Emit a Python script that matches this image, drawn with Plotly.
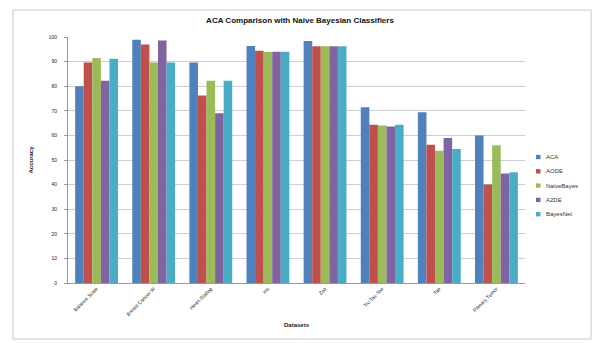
import plotly.graph_objects as go

# Datasets and accuracy (%) per classifier
datasets = ["Balance Scale", "Breast Cancer W", "Heart-Statlog", "Iris", "Zoo",
            "Tic-Tac-Toe", "Tae", "Primary Tumor"]
aca = [80.0, 98.9, 89.6, 96.3, 98.4, 71.4, 69.4, 60.0]
aode = [89.6, 97.0, 76.2, 94.4, 96.2, 64.3, 56.2, 40.0]
naive_bayes = [91.5, 89.6, 82.2, 93.9, 96.2, 64.0, 53.8, 56.0]
a2de = [82.2, 98.6, 69.0, 94.0, 96.2, 63.6, 58.9, 44.5]
bayes_net = [91.2, 89.6, 82.2, 94.0, 96.2, 64.3, 54.5, 45.0]

series_names = ["ACA", "AODE", "NaiveBayes", "A2DE", "BayesNet"]
series_values = [aca, aode, naive_bayes, a2de, bayes_net]
colors = ["#4F81BD", "#C0504D", "#9BBB59", "#8064A2", "#4BACC6"]

y_ticks = list(range(0, 101, 10))

fig = go.Figure()
for name, vals, col in zip(series_names, series_values, colors):
    fig.add_trace(go.Bar(x=datasets, y=vals, name=name, marker_color=col,
                         marker_line_width=0, showlegend=False))

font_family = "Liberation Sans, Arial, sans-serif"

# plot area geometry in pixels (used for the compact legend and border)
PL, PR, PT, PB = 68, 525, 37, 283
PW, PH = PR - PL, PB - PT


def px_x(x):
    return (x - PL) / PW


def px_y(y):
    return (PB - y) / PH


shapes = [dict(type="rect", xref="paper", yref="paper",
               x0=px_x(13), x1=px_x(591), y0=px_y(339), y1=px_y(10),
               line=dict(color="#c8c8c8", width=1), layer="below")]
annotations = []

# compact legend: small coloured squares with labels
leg_y0, leg_step = 157, 14.3
for i, (name, col) in enumerate(zip(series_names, colors)):
    cy = leg_y0 + i * leg_step
    shapes.append(dict(type="rect", xref="paper", yref="paper",
                       x0=px_x(536), x1=px_x(540.5), y0=px_y(cy + 2.2), y1=px_y(cy - 2.2),
                       fillcolor=col, line=dict(width=0)))
    annotations.append(dict(text=name, xref="paper", yref="paper",
                            x=px_x(544), y=px_y(cy), xanchor="left", yanchor="middle",
                            showarrow=False, font=dict(size=6, color="#333")))

fig.update_layout(
    width=600, height=343,
    margin=dict(l=PL, r=600 - PR, t=PT, b=343 - PB),
    paper_bgcolor="white", plot_bgcolor="white",
    barmode="group", bargap=0.25, bargroupgap=0,
    font=dict(family=font_family, size=6, color="#222"),
    title=dict(text="<b>ACA Comparison with Naive Bayesian Classifiers</b>",
               x=0.5, xanchor="center", y=0.94, yanchor="middle",
               font=dict(size=8, color="#111")),
    showlegend=False,
    xaxis=dict(title=dict(text="<b>Datasets</b>", font=dict(size=6), standoff=6),
               tickangle=-45, showline=True, linecolor="#999", linewidth=1,
               ticks="", tickfont=dict(size=5)),
    yaxis=dict(title=dict(text="<b>Accuracy</b>", font=dict(size=6), standoff=14),
               range=[0, 100], tickvals=y_ticks, ticktext=[str(v) for v in y_ticks],
               showgrid=True, gridcolor="#cfcfcf", gridwidth=1,
               showline=True, linecolor="#999", linewidth=1,
               ticks="outside", ticklen=3, tickcolor="#999", zeroline=False,
               ticklabelstandoff=6, tickfont=dict(size=5)),
    shapes=shapes,
    annotations=annotations,
)

fig.write_html("out.html")
